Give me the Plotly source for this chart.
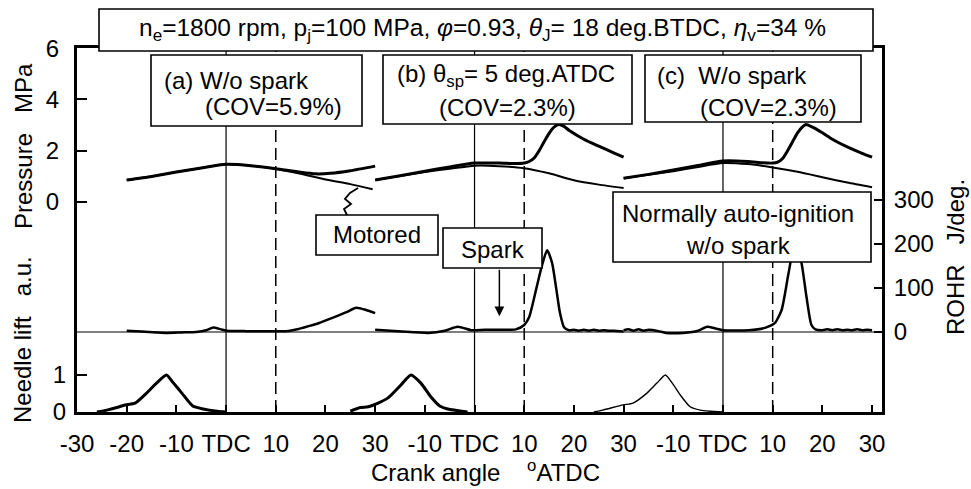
import plotly.graph_objects as go

# ---------------- DATA ----------------
# Each panel shows crank angle -20..30 deg (local); panels are laid side by side
PANEL_OFFSET = [0, 50, 100]

# Cylinder pressure, MPa
pa_ang = [-20, -15, -10, -5, 0, 5, 10, 15, 18, 21, 25, 30]
pa_fired = [0.86, 1.0, 1.17, 1.33, 1.47, 1.42, 1.30, 1.16, 1.10, 1.12, 1.22, 1.40]
pa_mot_ang = [-20, -15, -10, -5, 0, 5, 10, 12, 15, 20, 25, 29.5]
pa_mot = [0.86, 1.0, 1.17, 1.33, 1.47, 1.42, 1.30, 1.22, 1.10, 0.88, 0.70, 0.50]

pb_ang = [-20, -15, -10, -5, 0, 5, 8, 10, 11, 12, 13, 14, 15, 16, 17, 18, 19, 22, 25, 28, 30]
pb_fired = [0.86, 1.03, 1.2, 1.37, 1.52, 1.52, 1.5, 1.52, 1.58, 1.72, 2.0, 2.35, 2.68, 2.92,
            3.02, 2.95, 2.8, 2.45, 2.18, 1.92, 1.75]
pb_mot_ang = [-20, -15, -10, -5, 0, 5, 10, 15, 20, 25, 30]
pb_mot = [0.86, 1.02, 1.17, 1.3, 1.42, 1.4, 1.32, 1.12, 0.85, 0.68, 0.55]

pc_ang = [-20, -15, -10, -5, 0, 5, 8, 10, 11, 12, 13, 14, 15, 16, 16.7, 18, 20, 22, 25, 28, 30]
pc_fired = [0.93, 1.08, 1.25, 1.43, 1.6, 1.58, 1.53, 1.52, 1.56, 1.7, 2.0, 2.35, 2.7, 2.93,
            3.02, 2.92, 2.7, 2.45, 2.15, 1.9, 1.75]
pc_mot_ang = [-20, -15, -10, -5, 0, 5, 10, 15, 20, 25, 30]
pc_mot = [0.93, 1.06, 1.2, 1.37, 1.52, 1.48, 1.35, 1.18, 0.97, 0.76, 0.58]

# Rate of heat release, J/deg
ra_ang = [-20, -17, -14, -12, -9, -6, -4, -2.6, -1, 0.2, 4, 8, 12, 14.6, 16.5, 18.6, 21.4,
          24.2, 26.2, 28.2, 30]
ra = [3, 1, -1, -2, -1, 0, 4, 10, 6, 3, 2, 2, 2, 7, 13, 20, 32, 45, 55, 50, 43]

rb_ang = [-20, -14.6, -9.3, -6, -3.4, -0.5, 2, 5.5, 8.3, 10, 11, 12.5, 13.5, 14.6, 15.6, 16.4,
          17.2, 18, 19, 20, 21, 22, 23, 24, 25, 26, 27, 28, 30]
rb = [5, 1, -2, 3, 12, 4, 5, 5, 6, 16, 34, 102, 148, 186, 157, 102, 43, 11, 4, 5, 3, 5, 3, 5,
      3, 4, 3, 3, 1]

rc_ang = [-20, -19, -18, -17, -16, -15, -13, -11.5, -8, -5, -3.2, -1.5, 0, 5.2, 8.6, 10.4,
          11.8, 13.2, 14.5, 15.8, 16.8, 17.8, 18.6, 20, 21, 22, 23, 24, 25, 26, 27, 28, 29, 30]
rc = [4, 6, 3, 6, 3, 5, 2, -2, -2, 3, 12, 8, 4, 4, 10, 20, 50, 134, 205, 157, 80, 16, 6, 4, 6,
      4, 6, 4, 5, 4, 6, 4, 5, 4]

# Needle lift, a.u.
na_ang = [-26, -24, -22, -20.3, -18.3, -16, -14, -12, -10.7, -8.9, -6.7, -4.6, -1.8, 0]
na = [0, 0.05, 0.12, 0.19, 0.24, 0.51, 0.78, 1.0, 0.8, 0.51, 0.16, 0.08, 0.02, 0]
nb_ang = [-25, -23, -21.4, -19.4, -17.4, -14.8, -12.8, -10.8, -8.8, -7.0, -5.4, -1.4]
nb = [0.02, 0.12, 0.14, 0.24, 0.38, 0.73, 1.0, 0.78, 0.41, 0.16, 0.08, 0]
nc_ang = [-26, -24.2, -20.1, -18.1, -15.3, -13.3, -11.6, -10.2, -8.6, -6.6, -4.6, -2.6, 0]
nc = [0, 0.05, 0.19, 0.24, 0.51, 0.78, 1.0, 0.78, 0.46, 0.14, 0.05, 0.02, 0]

# Axis ticks
x_tickvals = [-30, -20, -10, 0, 10, 20, 30, 40, 50, 60, 70, 80, 90, 100, 110, 120, 130]
x_ticktext = ["-30", "-20", "-10", "TDC", "10", "20", "30",
              "-10", "TDC", "10", "20", "30",
              "-10", "TDC", "10", "20", "30"]
p_ticks = [0, 2, 4, 6]
n_ticks = [0, 1]
r_ticks = [0, 100, 200, 300]

# ---------------- FIGURE ----------------
FONT = "Arial, Liberation Sans, sans-serif"
W, H = 971, 489
L, R, T, B = 77, 89, 48, 77


def px(x):
    return (x - L) / (W - L - R)


def py(y):
    return (H - B - y) / (H - T - B)


def shift(ang, k):
    return [a + PANEL_OFFSET[k] for a in ang]


fig = go.Figure()
SP = dict(shape="spline", smoothing=0.6)

press = [(pa_ang, pa_fired, pa_mot_ang, pa_mot), (pb_ang, pb_fired, pb_mot_ang, pb_mot),
         (pc_ang, pc_fired, pc_mot_ang, pc_mot)]
for k, (fa, fv, ma, mv) in enumerate(press):
    fig.add_trace(go.Scatter(x=shift(ma, k), y=mv, mode="lines", yaxis="y",
                             line=dict(color="black", width=2, **SP), showlegend=False))
    fig.add_trace(go.Scatter(x=shift(fa, k), y=fv, mode="lines", yaxis="y",
                             line=dict(color="black", width=3, **SP), showlegend=False))

for k, (ra_, rv) in enumerate([(ra_ang, ra), (rb_ang, rb), (rc_ang, rc)]):
    fig.add_trace(go.Scatter(x=shift(ra_, k), y=rv, mode="lines", yaxis="y3",
                             line=dict(color="black", width=2.5, **SP), showlegend=False))

for k, (na_, nv, wd) in enumerate([(na_ang, na, 3), (nb_ang, nb, 3), (nc_ang, nc, 1.4)]):
    fig.add_trace(go.Scatter(x=shift(na_, k), y=nv, mode="lines", yaxis="y2",
                             line=dict(color="black", width=wd, **SP), showlegend=False))

shapes = []
# TDC (solid) and 10 deg ATDC (dashed) reference lines
for off in PANEL_OFFSET:
    shapes.append(dict(type="line", xref="x", yref="paper", x0=off, x1=off, y0=0, y1=1,
                       line=dict(color="black", width=1.2), layer="below"))
    shapes.append(dict(type="line", xref="x", yref="paper", x0=off + 10, x1=off + 10, y0=0, y1=1,
                       line=dict(color="black", width=1.5, dash="12px,6px"), layer="below"))
# ROHR zero baseline
shapes.append(dict(type="line", xref="paper", yref="y3", x0=0, x1=1, y0=0, y1=0,
                   line=dict(color="black", width=1.2), layer="below"))

# label boxes (pixel extents)
boxes = [(99, 9, 873, 51), (151, 55, 362, 126), (383, 55, 632, 124), (645, 55, 861, 122),
         (316, 215, 438, 255), (443, 228, 542, 268), (613, 192, 871, 262)]
for (x0, y0, x1, y1) in boxes:
    shapes.append(dict(type="rect", xref="paper", yref="paper", x0=px(x0), x1=px(x1),
                       y0=py(y1), y1=py(y0), fillcolor="white",
                       line=dict(color="black", width=1.6), layer="above"))

# squiggle leader from motored curve to "Motored" box
sq = [(358, 188), (350, 193), (345, 199), (351, 204), (344, 209), (347, 215)]
path = "M " + " L ".join(f"{px(a):.4f},{py(b):.4f}" for a, b in sq)
shapes.append(dict(type="path", xref="paper", yref="paper", path=path,
                   line=dict(color="black", width=1.8), layer="above"))

ann = []


def text(x, y, s, size=24, xanchor="center", angle=0):
    ann.append(dict(x=px(x), y=py(y), xref="paper", yref="paper", text=s, showarrow=False,
                    xanchor=xanchor, yanchor="middle", textangle=angle,
                    font=dict(family=FONT, size=size, color="black")))


text(137, 30, "n<sub>e</sub>=1800 rpm, p<sub>j</sub>=100 MPa, <i>φ</i>=0.93, "
              "<i>θ</i><sub>J</sub>= 18 deg.BTDC, <i>η</i><sub>v</sub>=34 %", size=24.5,
     xanchor="left")
text(162, 80, "(a) W/o spark", xanchor="left")
text(203, 106, "(COV=5.9%)", xanchor="left")
text(506, 76, "(b) θ<sub>sp</sub>= 5 deg.ATDC")
text(507, 107, "(COV=2.3%)")
text(655, 76, "(c)  W/o spark", xanchor="left")
text(698, 107, "(COV=2.3%)", xanchor="left")
text(377, 235, "Motored")
text(493, 249, "Spark")
text(738, 213, "Normally auto-ignition")
text(738, 245, "w/o spark")
text(485, 471, "Crank angle    <sup>o</sup>ATDC")
text(23, 146, "Pressure\u00a0\u00a0\u00a0MPa", angle=-90)
text(22, 340, "Needle lift\u00a0\u00a0\u00a0a.u.", angle=-90)
text(955, 257, "ROHR\u00a0\u00a0\u00a0J/deg.", angle=-90)

# spark timing arrow
ann.append(dict(x=55, y=36, xref="x", yref="y3", text="", showarrow=True, ax=0, ay=-48,
                arrowhead=2, arrowsize=1.3, arrowwidth=1.5, arrowcolor="black", standoff=0))

tickfont = dict(family=FONT, size=24, color="black")
fig.update_layout(
    width=W, height=H, margin=dict(l=L, r=R, t=T, b=B),
    paper_bgcolor="white", plot_bgcolor="white",
    shapes=shapes, annotations=ann, showlegend=False,
    xaxis=dict(range=[-30, 132], tickvals=x_tickvals, ticktext=x_ticktext, ticks="inside",
               ticklen=7, tickwidth=1.5, tickcolor="black", showline=True, linewidth=3,
               linecolor="black", mirror=True, showgrid=False, zeroline=False,
               tickfont=tickfont, ticklabelstandoff=8),
    yaxis=dict(range=[-8.182, 6.005], tickvals=p_ticks, ticks="inside", ticklen=10,
               tickwidth=1.5, tickcolor="black", showline=True, linewidth=3, linecolor="black",
               showgrid=False, zeroline=False, tickfont=tickfont, anchor="x",
               ticklabelstandoff=10),
    yaxis2=dict(range=[-0.001, 9.838], tickvals=n_ticks, overlaying="y", side="left",
                ticks="inside", ticklen=10, tickwidth=1.5, tickcolor="black", showline=False,
                showgrid=False, zeroline=False, tickfont=tickfont, anchor="x",
                ticklabelstandoff=10),
    yaxis3=dict(range=[-181.8, 645.5], tickvals=r_ticks, overlaying="y", side="right",
                ticks="inside", ticklen=8, tickwidth=2, tickcolor="black", showline=True,
                linewidth=3, linecolor="black", showgrid=False, zeroline=False,
                tickfont=tickfont, anchor="x", ticklabelstandoff=4),
)

fig.write_html("out.html")
